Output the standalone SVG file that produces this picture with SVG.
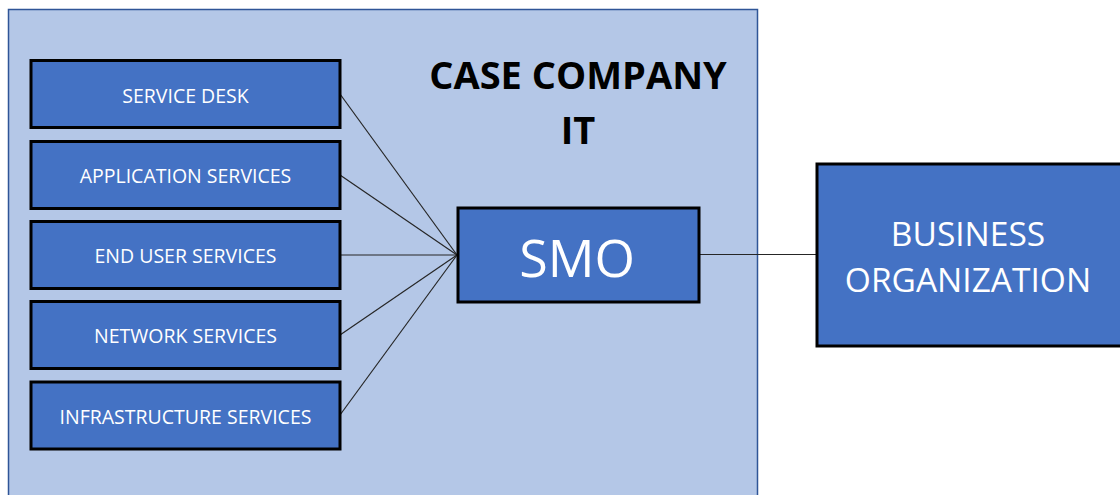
<svg xmlns="http://www.w3.org/2000/svg" width="1120" height="495" viewBox="0 0 1120 495">
  <style>
    .unit { fill: #4472C4; stroke: #000; stroke-width: 3; }
    .lbl { fill: #fff; font-family: "Open Sans", "Liberation Sans", sans-serif; text-anchor: middle; dominant-baseline: central; }
    .small { font-size: 19.5px; }
    .link { stroke: #262626; stroke-width: 1.2; fill: none; }
    .title { fill: #000; font-family: "Open Sans", "Liberation Sans", sans-serif; font-weight: bold; font-size: 38px; text-anchor: middle; }
  </style>
  <rect width="1120" height="495" fill="#fff"/>

  <!-- IT organisation boundary -->
  <g id="case-company-it">
    <rect x="8.5" y="9.5" width="749" height="500" fill="#B4C7E7" stroke="#2F5597" stroke-width="1.5"/>
    <text class="title" x="578" y="89">CASE COMPANY</text>
    <text class="title" x="578" y="144">IT</text>
  </g>

  <!-- connectors -->
  <g id="connectors">
    <line class="link" x1="340" y1="94" x2="457" y2="255"/>
    <line class="link" x1="340" y1="175" x2="457" y2="255"/>
    <line class="link" x1="340" y1="255" x2="457" y2="255"/>
    <line class="link" x1="340" y1="335" x2="457" y2="255"/>
    <line class="link" x1="340" y1="415" x2="457" y2="255"/>
    <line class="link" x1="700" y1="254.5" x2="817" y2="254.5" stroke="#000" stroke-width="1.5"/>
  </g>

  <g id="service-desk">
    <rect class="unit" x="31" y="60.5" width="309" height="67"/>
    <text class="lbl small" x="185.5" y="95">SERVICE DESK</text>
  </g>
  <g id="application-services">
    <rect class="unit" x="31" y="141.5" width="309" height="67"/>
    <text class="lbl small" x="185.5" y="175">APPLICATION SERVICES</text>
  </g>
  <g id="end-user-services">
    <rect class="unit" x="31" y="221.5" width="309" height="67"/>
    <text class="lbl small" x="185.5" y="255">END USER SERVICES</text>
  </g>
  <g id="network-services">
    <rect class="unit" x="31" y="301.5" width="309" height="67"/>
    <text class="lbl small" x="185.5" y="335">NETWORK SERVICES</text>
  </g>
  <g id="infrastructure-services">
    <rect class="unit" x="31" y="382" width="309" height="67"/>
    <text class="lbl small" x="185.5" y="416">INFRASTRUCTURE SERVICES</text>
  </g>

  <g id="smo">
    <rect class="unit" x="458" y="208" width="241" height="94"/>
    <text class="lbl" x="577" y="256" font-size="52">SMO</text>
  </g>

  <g id="business-organization">
    <rect class="unit" x="817" y="164" width="310" height="182"/>
    <text class="lbl" x="968" y="233" font-size="33.5">BUSINESS</text>
    <text class="lbl" x="968" y="279" font-size="33.5">ORGANIZATION</text>
  </g>
</svg>
